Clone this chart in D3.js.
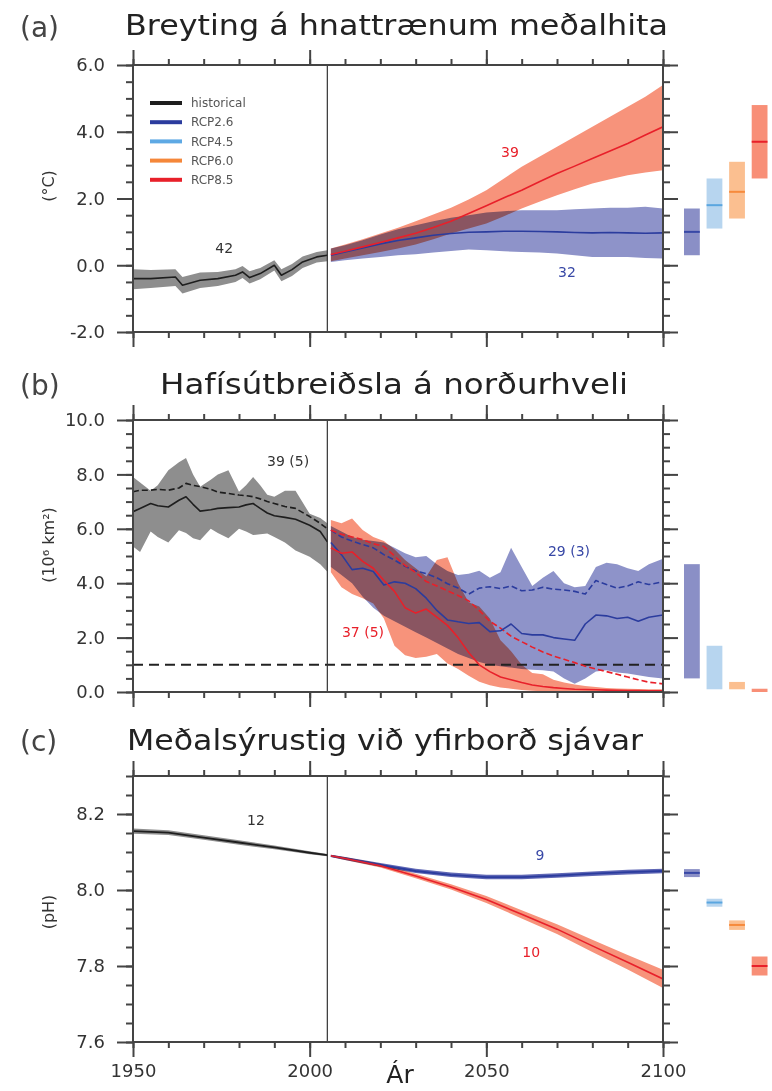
<!DOCTYPE html>
<html>
<head>
<meta charset="utf-8">
<script src="https://cdn.jsdelivr.net/npm/d3@7"></script>
<style>
  body { margin: 0; background: #fff; }
  svg { display: block; }
</style>
</head>
<body>
<div id="chart"></div>
<script>
// ---- data ----
const scenarios = ["RCP2.6", "RCP4.5", "RCP6.0", "RCP8.5"];
const legendNames = ["historical", "RCP2.6", "RCP4.5", "RCP6.0", "RCP8.5"];
const yearTicks = [1950, 2000, 2050, 2100];

// (a) global mean surface temperature change
const tempTicks = [-2, 0, 2, 4, 6];
const tempHistYears = [1950, 1955, 1962, 1964, 1969, 1974, 1979, 1981, 1983, 1986, 1990, 1992, 1995, 1998, 2002, 2005];
const tempHistMean = [-0.40, -0.40, -0.35, -0.60, -0.45, -0.40, -0.30, -0.20, -0.37, -0.25, 0.00, -0.30, -0.13, 0.10, 0.25, 0.30];
const tempHistUpper = [-0.12, -0.14, -0.12, -0.35, -0.22, -0.20, -0.12, -0.02, -0.18, -0.08, 0.15, -0.12, 0.04, 0.26, 0.40, 0.45];
const tempHistLower = [-0.72, -0.68, -0.62, -0.85, -0.68, -0.62, -0.50, -0.38, -0.55, -0.42, -0.16, -0.48, -0.32, -0.08, 0.08, 0.12];

const tempProjYears = [2006, 2010, 2015, 2020, 2025, 2030, 2035, 2040, 2045, 2050, 2055, 2060, 2065, 2070, 2075, 2080, 2085, 2090, 2095, 2100];
const temp85Mean = [0.32, 0.42, 0.55, 0.68, 0.82, 0.96, 1.13, 1.32, 1.55, 1.78, 2.02, 2.25, 2.50, 2.75, 2.97, 3.20, 3.42, 3.65, 3.90, 4.15];
const temp85Upper = [0.50, 0.62, 0.78, 0.95, 1.12, 1.32, 1.52, 1.72, 1.97, 2.25, 2.60, 2.95, 3.25, 3.55, 3.85, 4.15, 4.45, 4.75, 5.05, 5.40];
const temp85Lower = [0.12, 0.20, 0.30, 0.40, 0.50, 0.62, 0.78, 0.95, 1.10, 1.25, 1.47, 1.70, 1.90, 2.10, 2.28, 2.45, 2.58, 2.70, 2.78, 2.85];
const temp26Mean = [0.30, 0.40, 0.52, 0.64, 0.74, 0.82, 0.90, 0.95, 0.99, 1.00, 1.02, 1.02, 1.01, 1.00, 0.98, 0.97, 0.98, 0.97, 0.96, 0.97];
const temp26Upper = [0.50, 0.60, 0.75, 0.92, 1.08, 1.20, 1.32, 1.42, 1.50, 1.58, 1.62, 1.65, 1.65, 1.65, 1.68, 1.70, 1.72, 1.72, 1.75, 1.70];
const temp26Lower = [0.10, 0.15, 0.20, 0.25, 0.30, 0.33, 0.38, 0.43, 0.47, 0.45, 0.42, 0.40, 0.38, 0.35, 0.30, 0.25, 0.25, 0.25, 0.22, 0.20];

const tempBarLow = [0.3, 1.1, 1.4, 2.6];
const tempBarHigh = [1.7, 2.6, 3.1, 4.8];
const tempBarMean = [1.0, 1.8, 2.2, 3.7];

// (b) Northern Hemisphere September sea ice extent
const iceTicks = [0, 2, 4, 6, 8, 10];
const iceHistYears = [1950, 1952, 1955, 1957, 1960, 1963, 1965, 1967, 1969, 1972, 1974, 1977, 1980, 1982, 1984, 1986, 1988, 1990, 1993, 1996, 2000, 2003, 2005];
const iceHistUpper = [7.90, 7.70, 7.40, 7.60, 8.15, 8.45, 8.60, 8.00, 7.55, 7.80, 8.00, 8.15, 7.36, 7.60, 7.90, 7.60, 7.25, 7.18, 7.40, 7.40, 6.55, 6.40, 6.20];
const iceHistLower = [5.35, 5.15, 5.90, 5.70, 5.50, 5.95, 5.85, 5.65, 5.58, 6.00, 5.85, 5.65, 6.00, 5.90, 5.77, 5.80, 5.83, 5.70, 5.50, 5.20, 4.97, 4.70, 4.42];
const iceHistMean = [6.63, 6.75, 6.93, 6.85, 6.80, 7.05, 7.18, 6.90, 6.65, 6.70, 6.75, 6.78, 6.80, 6.88, 6.93, 6.75, 6.58, 6.48, 6.42, 6.35, 6.13, 5.90, 5.52];
const iceHistDash = [7.36, 7.42, 7.42, 7.45, 7.42, 7.50, 7.67, 7.60, 7.55, 7.45, 7.35, 7.30, 7.24, 7.22, 7.18, 7.10, 7.00, 6.93, 6.82, 6.75, 6.45, 6.20, 6.00];

const iceProjYears = [2006, 2009, 2012, 2015, 2018, 2021, 2024, 2027, 2030, 2033, 2036, 2039, 2042, 2045, 2048, 2051, 2054, 2057, 2060, 2063, 2066, 2069, 2072, 2075, 2078, 2081, 2084, 2087, 2090, 2093, 2096, 2100];
const ice26Mean = [5.50, 5.05, 4.50, 4.55, 4.43, 3.93, 4.05, 4.00, 3.80, 3.45, 3.00, 2.65, 2.58, 2.52, 2.55, 2.22, 2.25, 2.50, 2.15, 2.10, 2.10, 2.00, 1.95, 1.90, 2.50, 2.83, 2.80, 2.70, 2.75, 2.60, 2.75, 2.83];
const ice26Dash = [5.95, 5.70, 5.55, 5.42, 5.30, 5.05, 4.85, 4.62, 4.45, 4.35, 4.20, 3.98, 3.82, 3.60, 3.82, 3.87, 3.80, 3.90, 3.72, 3.75, 3.85, 3.78, 3.75, 3.70, 3.60, 4.10, 3.95, 3.82, 3.90, 4.05, 3.95, 4.05];
const ice26Upper = [6.10, 5.90, 5.70, 5.60, 5.55, 5.50, 5.30, 5.10, 4.95, 5.00, 4.70, 4.45, 4.30, 4.35, 4.46, 4.20, 4.40, 5.30, 4.60, 3.90, 4.20, 4.45, 4.00, 3.85, 3.90, 4.60, 4.75, 4.70, 4.55, 4.45, 4.70, 4.90];
const ice26Lower = [4.60, 4.30, 4.00, 3.50, 3.10, 2.80, 2.60, 2.40, 2.20, 2.00, 1.80, 1.60, 1.40, 1.25, 1.10, 1.00, 0.95, 0.90, 0.85, 0.82, 0.80, 0.75, 0.50, 0.30, 0.50, 0.75, 0.80, 0.72, 0.68, 0.62, 0.55, 0.50];
const ice85Mean = [5.30, 5.10, 5.15, 4.80, 4.55, 4.10, 3.70, 3.10, 2.90, 3.05, 2.75, 2.45, 2.00, 1.45, 1.00, 0.75, 0.55, 0.45, 0.35, 0.26, 0.20, 0.16, 0.13, 0.10, 0.09, 0.08, 0.07, 0.06, 0.05, 0.05, 0.04, 0.04];
const ice85Dash = [5.95, 5.80, 5.70, 5.60, 5.45, 5.35, 5.00, 4.65, 4.40, 4.06, 3.90, 3.72, 3.55, 3.35, 3.00, 2.60, 2.35, 2.05, 1.85, 1.65, 1.47, 1.32, 1.20, 1.08, 0.95, 0.85, 0.75, 0.65, 0.55, 0.45, 0.36, 0.30];
const ice85Upper = [6.32, 6.20, 6.38, 5.96, 5.70, 5.55, 5.25, 4.85, 4.55, 4.25, 4.85, 4.95, 4.00, 3.30, 3.14, 2.70, 1.90, 1.50, 1.00, 0.70, 0.65, 0.45, 0.35, 0.28, 0.22, 0.18, 0.15, 0.13, 0.12, 0.11, 0.10, 0.10];
const ice85Lower = [4.40, 3.85, 3.60, 3.45, 3.25, 2.70, 1.70, 1.35, 1.25, 1.30, 1.40, 1.05, 0.85, 0.60, 0.38, 0.25, 0.17, 0.12, 0.07, 0.05, 0.03, 0.02, 0.01, 0.00, 0.00, 0.00, 0.00, 0.00, 0.00, 0.00, 0.00, 0.00];
const iceThreshold = 1.0;

const iceBarLow = [0.5, 0.1, 0.1, 0.0];
const iceBarHigh = [4.7, 1.7, 0.37, 0.12];

// (c) global mean ocean surface pH
const phTicks = [7.6, 7.8, 8.0, 8.2];
const phHistYears = [1950, 1960, 1970, 1980, 1990, 2000, 2005];
const phHistMean = [8.155, 8.151, 8.138, 8.125, 8.112, 8.098, 8.092];
const phHistUpper = [8.162, 8.157, 8.144, 8.131, 8.117, 8.102, 8.095];
const phHistLower = [8.148, 8.145, 8.132, 8.119, 8.107, 8.094, 8.089];

const phProjYears = [2006, 2010, 2020, 2030, 2040, 2050, 2060, 2070, 2080, 2090, 2100];
const ph26Mean = [8.090, 8.083, 8.066, 8.050, 8.040, 8.034, 8.034, 8.038, 8.043, 8.047, 8.050];
const ph26Upper = [8.093, 8.087, 8.071, 8.056, 8.046, 8.040, 8.040, 8.044, 8.049, 8.053, 8.056];
const ph26Lower = [8.087, 8.079, 8.061, 8.045, 8.034, 8.028, 8.028, 8.032, 8.037, 8.041, 8.044];
const ph85Mean = [8.090, 8.083, 8.064, 8.037, 8.008, 7.975, 7.936, 7.897, 7.853, 7.810, 7.766];
const ph85Upper = [8.093, 8.087, 8.069, 8.043, 8.015, 7.984, 7.947, 7.910, 7.869, 7.829, 7.790];
const ph85Lower = [8.087, 8.079, 8.059, 8.031, 8.001, 7.966, 7.925, 7.884, 7.837, 7.791, 7.742];

const phBarLow = [8.034, 7.956, 7.895, 7.775];
const phBarHigh = [8.055, 7.977, 7.920, 7.825];
const phBarMean = [8.045, 7.967, 7.908, 7.800];

// ---- styles ----
const lineColor = { hist: "#1e1e1e", "RCP2.6": "#2b3c9e", "RCP4.5": "#5ea9e4", "RCP6.0": "#f5873a", "RCP8.5": "#e8202a" };
const bandColor = { hist: "#8e8e8e", "RCP2.6": "#8e93c9", "RCP8.5": "#f7937b" };
const barColor = { "RCP2.6": "#8a8fc6", "RCP4.5": "#b7d5ef", "RCP6.0": "#fbbf90", "RCP8.5": "#f88f77" };
const barLine = { "RCP2.6": "#3848a6", "RCP4.5": "#5aa6e0", "RCP6.0": "#f68a3c", "RCP8.5": "#e8202a" };
const axisColor = "#444";
const font = "'DejaVu Sans', 'Liberation Sans', sans-serif";

const W = 772, H = 1091;
const svg = d3.select("#chart").append("svg")
  .attr("width", W).attr("height", H)
  .style("font-family", font);

const x = d3.scaleLinear().domain([1950, 2100]).range([133, 663]);
const barX = d3.scaleBand().domain(scenarios).range([684, 767.5]).paddingInner(0.3);

const zip2 = (years, v) => years.map((yr, i) => [yr, v[i]]);
const zip3 = (years, lo, hi) => years.map((yr, i) => [yr, lo[i], hi[i]]);

// plain hyphen for negative numbers, like the original
const fmt1 = d => d3.format(".1f")(d).replace("\u2212", "-");

const panels = [
  {
    id: "a", letter: "(a)", title: "Breyting á hnattrænum meðalhita",
    titleX: 125, titleW: 543, titleY: 35, letterY: 37,
    top: 65, bottom: 332, domain: [-2, 6], ticks: tempTicks, minor: 0.5,
    unit: "(°C)", unitY: 186,
    bands: [
      { years: tempHistYears, lo: tempHistLower, hi: tempHistUpper, color: bandColor.hist },
      { years: tempProjYears, lo: temp26Lower, hi: temp26Upper, color: bandColor["RCP2.6"] },
      { years: tempProjYears, lo: temp85Lower, hi: temp85Upper, color: bandColor["RCP8.5"] }
    ],
    lines: [
      { years: tempHistYears, v: tempHistMean, color: lineColor.hist, w: 1.6 },
      { years: tempProjYears, v: temp26Mean, color: lineColor["RCP2.6"], w: 1.6 },
      { years: tempProjYears, v: temp85Mean, color: lineColor["RCP8.5"], w: 1.6 }
    ],
    bars: { lo: tempBarLow, hi: tempBarHigh, mean: tempBarMean },
    notes: [
      { t: "42", yr: 1975.8, v: 0.36, c: "#333" },
      { t: "39", yr: 2056.7, v: 3.24, c: "#e8202a" },
      { t: "32", yr: 2072.8, v: -0.35, c: "#3848a6" }
    ],
    legend: true
  },
  {
    id: "b", letter: "(b)", title: "Hafísútbreiðsla á norðurhveli",
    titleX: 160, titleW: 468, titleY: 394, letterY: 395,
    top: 420, bottom: 692, domain: [0, 10], ticks: iceTicks, minor: 0.5,
    unit: "(10⁶ km²)", unitY: 545,
    bands: [
      { years: iceHistYears, lo: iceHistLower, hi: iceHistUpper, color: bandColor.hist },
      { years: iceProjYears, lo: ice26Lower, hi: ice26Upper, color: bandColor["RCP2.6"] },
      { years: iceProjYears, lo: ice85Lower, hi: ice85Upper, color: bandColor["RCP8.5"] }
    ],
    lines: [
      { years: iceHistYears, v: iceHistDash, color: lineColor.hist, w: 1.6, dash: "6,3" },
      { years: iceHistYears, v: iceHistMean, color: lineColor.hist, w: 1.6 },
      { years: iceProjYears, v: ice26Dash, color: lineColor["RCP2.6"], w: 1.6, dash: "6,3" },
      { years: iceProjYears, v: ice85Dash, color: lineColor["RCP8.5"], w: 1.6, dash: "6,3" },
      { years: iceProjYears, v: ice26Mean, color: lineColor["RCP2.6"], w: 1.6 },
      { years: iceProjYears, v: ice85Mean, color: lineColor["RCP8.5"], w: 1.6 }
    ],
    threshold: iceThreshold,
    bars: { lo: iceBarLow, hi: iceBarHigh },
    notes: [
      { t: "39 (5)", yr: 1993.9, v: 8.3, c: "#333" },
      { t: "29 (3)", yr: 2073.4, v: 5.0, c: "#3848a6" },
      { t: "37 (5)", yr: 2015.1, v: 2.02, c: "#e8202a" }
    ]
  },
  {
    id: "c", letter: "(c)", title: "Meðalsýrustig við yfirborð sjávar",
    titleX: 127, titleW: 516, titleY: 750, letterY: 751,
    top: 776, bottom: 1042, domain: [7.6, 8.3], ticks: phTicks, minor: 0.05,
    unit: "(pH)", unitY: 912,
    bands: [
      { years: phHistYears, lo: phHistLower, hi: phHistUpper, color: bandColor.hist },
      { years: phProjYears, lo: ph26Lower, hi: ph26Upper, color: "#5f67b5" },
      { years: phProjYears, lo: ph85Lower, hi: ph85Upper, color: bandColor["RCP8.5"] }
    ],
    lines: [
      { years: phHistYears, v: phHistMean, color: lineColor.hist, w: 1.8 },
      { years: phProjYears, v: ph26Mean, color: lineColor["RCP2.6"], w: 1.8 },
      { years: phProjYears, v: ph85Mean, color: lineColor["RCP8.5"], w: 1.6 }
    ],
    bars: { lo: phBarLow, hi: phBarHigh, mean: phBarMean },
    notes: [
      { t: "12", yr: 1984.8, v: 8.171, c: "#333" },
      { t: "9", yr: 2065.2, v: 8.079, c: "#3848a6" },
      { t: "10", yr: 2062.7, v: 7.824, c: "#e8202a" }
    ],
    xLabels: true
  }
];

function minorTicks(domain, step) {
  const n = Math.round((domain[1] - domain[0]) / step);
  return d3.range(n + 1).map(i => +(domain[0] + i * step).toFixed(4));
}

function styleAxis(g) {
  g.select(".domain").remove();
  g.selectAll(".tick line").attr("stroke", axisColor).attr("stroke-width", 2);
  g.selectAll(".tick text").attr("fill", "#333").style("font-family", font).style("font-size", "18px");
}

panels.forEach(p => {
  const y = d3.scaleLinear().domain(p.domain).range([p.bottom, p.top]);
  const [x0, x1] = x.range();
  const g = svg.append("g");

  g.append("clipPath").attr("id", "clip-" + p.id)
    .append("rect").attr("x", x0).attr("y", p.top)
    .attr("width", x1 - x0).attr("height", p.bottom - p.top);

  const plot = g.append("g").attr("clip-path", `url(#clip-${p.id})`);

  const area = d3.area().x(d => x(d[0])).y0(d => y(d[1])).y1(d => y(d[2]));
  const line = d3.line().x(d => x(d[0])).y(d => y(d[1]));

  plot.append("g").selectAll("path")
    .data(p.bands)
    .join("path")
    .attr("d", b => area(zip3(b.years, b.lo, b.hi)))
    .attr("fill", b => b.color)
    .style("mix-blend-mode", "multiply");

  if (p.threshold !== undefined) {
    plot.append("line")
      .attr("x1", x0).attr("x2", x1)
      .attr("y1", y(p.threshold)).attr("y2", y(p.threshold))
      .attr("stroke", "#222").attr("stroke-width", 2)
      .attr("stroke-dasharray", "10,6");
  }

  plot.append("g").selectAll("path")
    .data(p.lines)
    .join("path")
    .attr("d", l => line(zip2(l.years, l.v)))
    .attr("fill", "none")
    .attr("stroke", l => l.color)
    .attr("stroke-width", l => l.w)
    .attr("stroke-dasharray", l => l.dash || null)
    .attr("stroke-linejoin", "round");

  // year 2005 divider
  g.append("line")
    .attr("x1", x(2005)).attr("x2", x(2005))
    .attr("y1", p.top).attr("y2", p.bottom)
    .attr("stroke", "#333").attr("stroke-width", 1.2);

  // frame
  g.append("rect")
    .attr("x", x0).attr("y", p.top)
    .attr("width", x1 - x0).attr("height", p.bottom - p.top)
    .attr("fill", "none").attr("stroke", axisColor).attr("stroke-width", 2);

  // axes: major + minor ticks on all four sides
  const minY = minorTicks(p.domain, p.minor);
  const minX = d3.range(1950, 2101, 10);

  g.append("g").attr("transform", `translate(${x0},0)`)
    .call(d3.axisLeft(y).tickValues(minY).tickSize(7).tickFormat("")).call(styleAxis);
  g.append("g").attr("transform", `translate(${x0},0)`)
    .call(d3.axisLeft(y).tickValues(p.ticks).tickSize(16).tickPadding(12).tickFormat(fmt1)).call(styleAxis);
  g.append("g").attr("transform", `translate(${x1},0)`)
    .call(d3.axisRight(y).tickValues(minY).tickSize(7).tickFormat("")).call(styleAxis);
  g.append("g").attr("transform", `translate(${x1},0)`)
    .call(d3.axisRight(y).tickValues(p.ticks).tickSize(15).tickFormat("")).call(styleAxis);

  g.append("g").attr("transform", `translate(0,${p.top})`)
    .call(d3.axisTop(x).tickValues(minX).tickSize(6).tickFormat("")).call(styleAxis);
  g.append("g").attr("transform", `translate(0,${p.top})`)
    .call(d3.axisTop(x).tickValues(yearTicks).tickSize(15).tickFormat("")).call(styleAxis);
  g.append("g").attr("transform", `translate(0,${p.bottom})`)
    .call(d3.axisBottom(x).tickValues(minX).tickSize(6).tickFormat("")).call(styleAxis);
  g.append("g").attr("transform", `translate(0,${p.bottom})`)
    .call(d3.axisBottom(x).tickValues(yearTicks).tickSize(15).tickPadding(7)
      .tickFormat(p.xLabels ? d3.format("d") : "")).call(styleAxis);

  // y axis unit
  g.append("text")
    .attr("transform", `translate(54,${p.unitY}) rotate(-90)`)
    .attr("text-anchor", "middle")
    .attr("fill", "#333")
    .style("font-size", "16px")
    .text(p.unit);

  // panel letter and title
  g.append("text")
    .attr("x", 20).attr("y", p.letterY)
    .attr("fill", "#444").style("font-size", "28px")
    .text(p.letter);
  g.append("text")
    .attr("x", p.titleX).attr("y", p.titleY)
    .attr("fill", "#222").style("font-size", "28px")
    .attr("textLength", p.titleW).attr("lengthAdjust", "spacingAndGlyphs")
    .text(p.title);

  // model-count annotations
  g.append("g").selectAll("text")
    .data(p.notes)
    .join("text")
    .attr("x", d => x(d.yr)).attr("y", d => y(d.v))
    .attr("text-anchor", "middle")
    .attr("fill", d => d.c)
    .style("font-size", "14px")
    .text(d => d.t);

  // 2081-2100 range bars
  const barData = scenarios.map((s, i) => ({ s, lo: p.bars.lo[i], hi: p.bars.hi[i], mean: p.bars.mean ? p.bars.mean[i] : null }));
  g.append("g").selectAll("rect")
    .data(barData)
    .join("rect")
    .attr("x", d => barX(d.s))
    .attr("width", barX.bandwidth())
    .attr("y", d => y(d.hi))
    .attr("height", d => Math.max(2, y(d.lo) - y(d.hi)))
    .attr("fill", d => barColor[d.s]);
  if (p.bars.mean) {
    g.append("g").selectAll("line")
      .data(barData)
      .join("line")
      .attr("x1", d => barX(d.s)).attr("x2", d => barX(d.s) + barX.bandwidth())
      .attr("y1", d => y(d.mean)).attr("y2", d => y(d.mean))
      .attr("stroke", d => barLine[d.s]).attr("stroke-width", 2);
  }

  if (p.legend) {
    const leg = g.append("g").attr("transform", "translate(150,103)");
    const items = leg.selectAll("g")
      .data(legendNames)
      .join("g")
      .attr("transform", (d, i) => `translate(0,${i * 19.2})`);
    items.append("line")
      .attr("x1", 0).attr("x2", 32)
      .attr("stroke", d => d === "historical" ? lineColor.hist : lineColor[d])
      .attr("stroke-width", 4);
    items.append("text")
      .attr("x", 41).attr("dy", "0.35em")
      .attr("fill", "#555")
      .style("font-size", "12px")
      .text(d => d);
  }
});

// x axis title
svg.append("text")
  .attr("x", 400).attr("y", 1083)
  .attr("text-anchor", "middle")
  .attr("fill", "#222")
  .style("font-size", "25px")
  .text("Ár");
</script>
</body>
</html>
